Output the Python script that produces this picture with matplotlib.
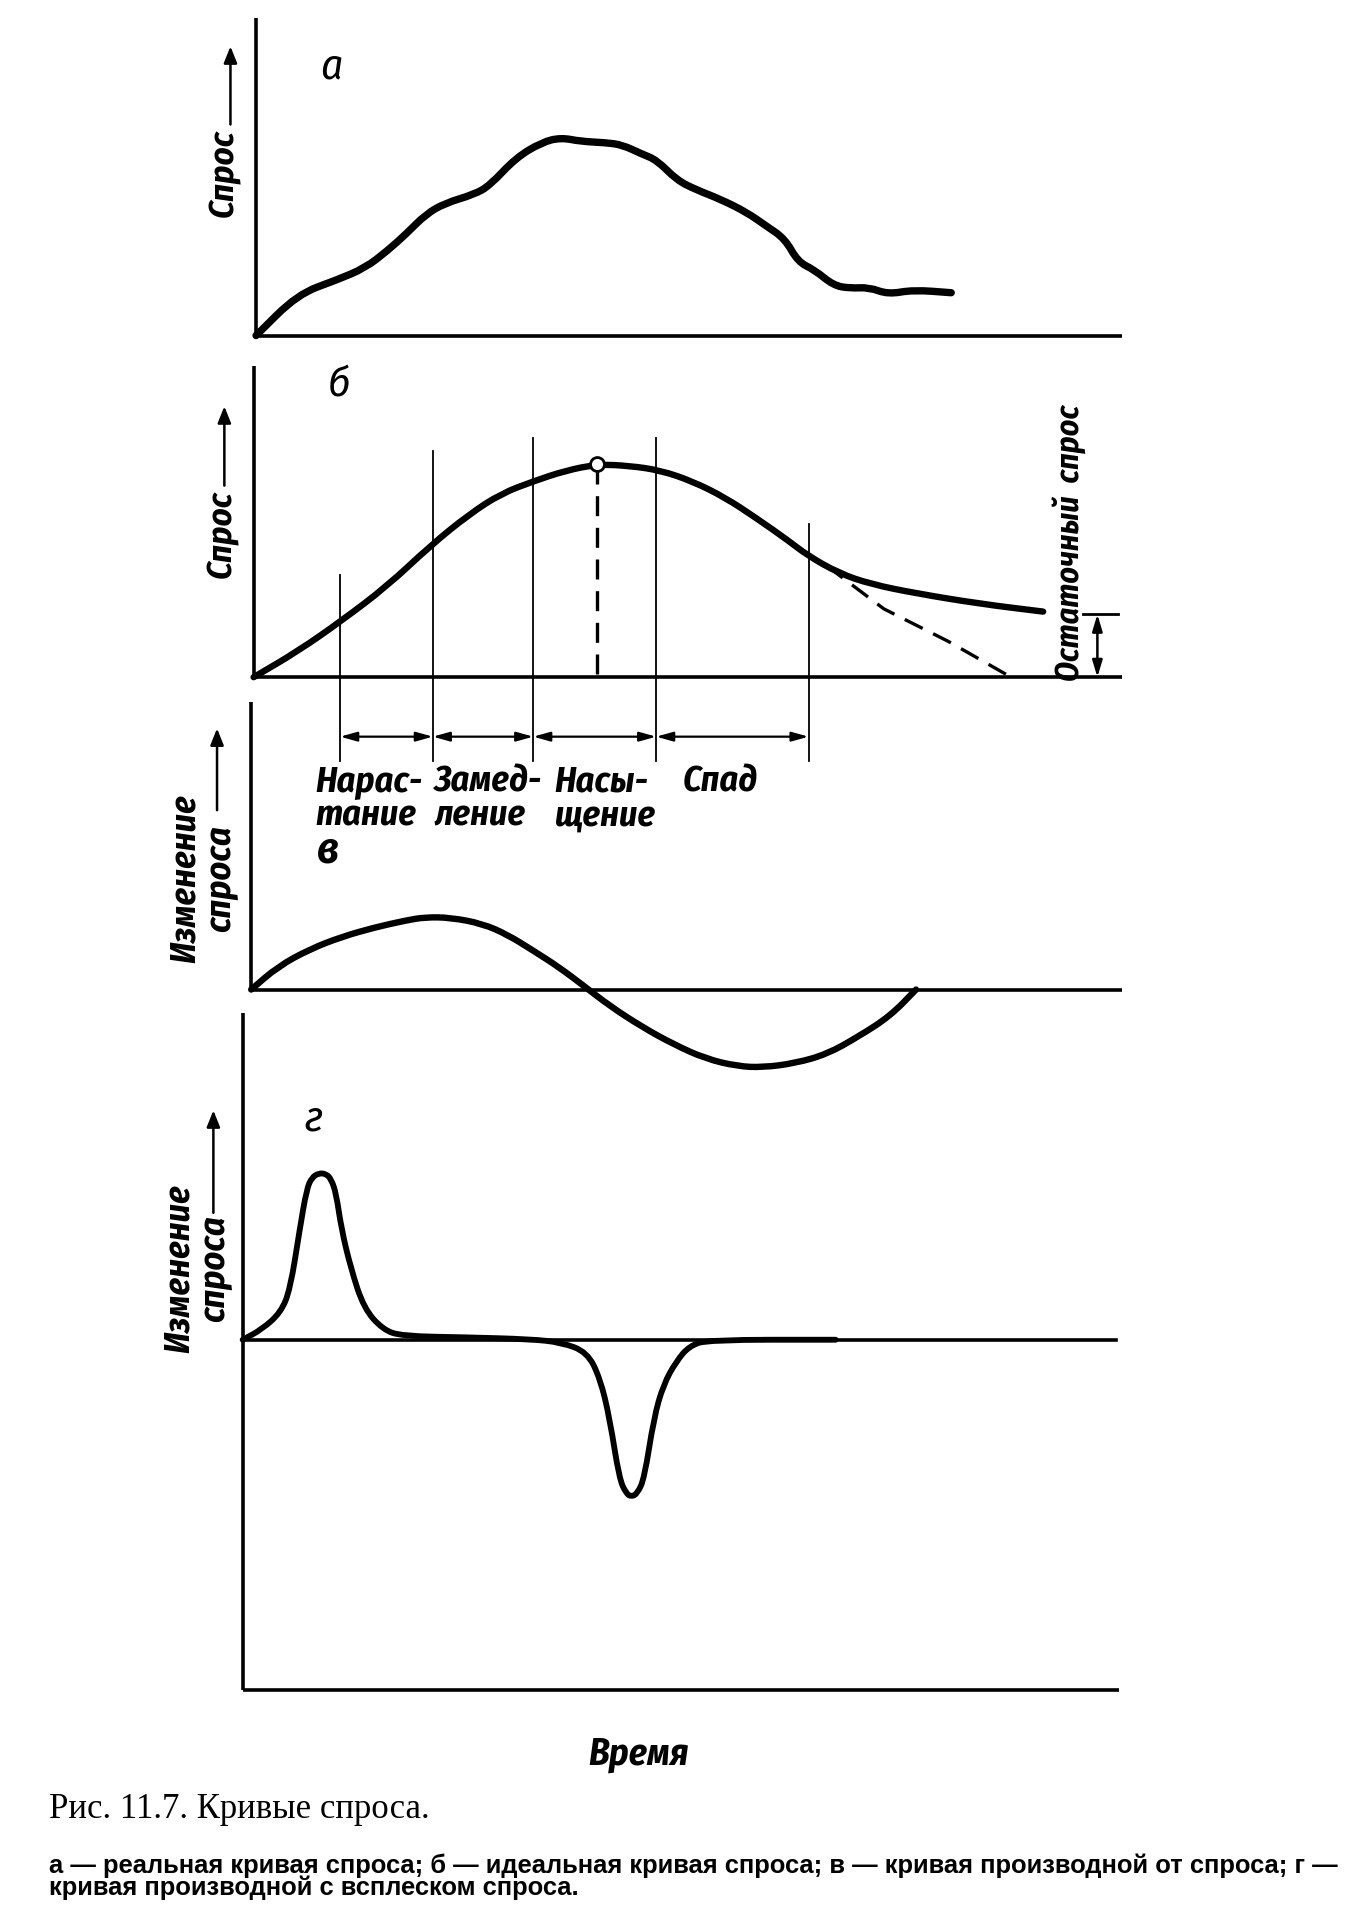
import matplotlib
matplotlib.use('Agg')
import matplotlib.pyplot as plt
from matplotlib.path import Path
from matplotlib.patches import PathPatch, FancyArrowPatch

# layout measured on a 1108 x 1567 grid, figure saved at 1351 x 1912
W, H = 1108.0, 1567.0
PX = 71.0   # px per time unit

# а - real demand curve
t_a = [0, 0.48, 0.93, 1.26, 1.52, 1.74, 1.96, 2.18, 2.52, 2.70, 3.00, 3.30, 3.52, 3.75,
       4.04, 4.23, 4.45, 4.63, 4.86, 5.08, 5.37, 5.67, 5.89, 6.11, 6.26, 6.45, 6.67,
       6.86, 7.08, 7.30, 7.59, 8.03]
d_a = [0, 13.0, 17.5, 21.3, 26.8, 32.2, 38.2, 41.7, 44.5, 47.3, 56.0, 60.9, 62.4, 61.2,
       60.8, 60.1, 57.3, 55.3, 49.0, 46.0, 42.9, 38.8, 34.6, 30.5, 23.2, 20.7, 15.8,
       14.9, 15.2, 13.0, 14.4, 13.5]

# б - ideal curve
t_b = [0, 0.51, 1.02, 1.54, 2.05, 2.49, 2.86, 3.23, 3.60, 3.97, 4.34, 4.70, 5.07, 5.44,
       5.81, 6.18, 6.40, 6.76, 7.13, 7.65, 8.38, 9.12]
d_b = [0, 8.5, 18.6, 29.8, 43.3, 53.4, 60.2, 64.2, 67.7, 69.8, 69.3, 67.8, 64.2, 59.0,
       52.1, 44.7, 39.9, 34.1, 30.5, 27.5, 24.1, 21.5]
peak_t, peak_d = 3.97, 69.8
t_b_dash = [6.62, 7.28, 8.02, 8.75]
d_b_dash = [36.5, 22.4, 11.8, 0.0]
stage_t = [1.0, 2.07, 3.23, 4.65, 6.41]
stage_top = [33.4, 74.0, 78.3, 78.4, 50.2]
stage_names = ['Нарас-\nтание', 'Замед-\nление', 'Насы-\nщение', 'Спад']
residual = 20.6

# в - derivative of demand
t_v = [0, 0.31, 0.68, 1.05, 1.42, 1.79, 2.01, 2.30, 2.67, 2.96, 3.26, 3.55, 3.85, 4.14,
       4.51, 4.88, 5.25, 5.62, 5.91, 6.28, 6.65, 7.01, 7.38, 7.68]
d_v = [0, 1.89, 3.32, 4.33, 5.08, 5.67, 5.93, 5.90, 5.40, 4.50, 3.18, 1.86, 0.26, -1.33,
       -3.04, -4.49, -5.67, -6.29, -6.38, -6.04, -5.30, -3.87, -2.18, 0]

# г - derivative with a demand burst
t_g = [0, 0.22, 0.44, 0.55, 0.66, 0.74, 0.80, 0.88, 0.96, 1.02, 1.08, 1.14, 1.25, 1.40,
       1.62, 1.84, 2.58, 3.32, 3.68, 3.98, 4.13, 4.24, 4.35, 4.43, 4.49, 4.56, 4.64,
       4.75, 4.86, 5.01, 5.16, 5.38, 6.85]
d_g = [0, 0.84, 2.23, 4.15, 9.08, 12.36, 13.3, 13.65, 13.6, 13.2, 12.0, 9.12, 5.85, 2.58,
       0.83, 0.30, 0.2, 0.05, -0.22, -1.01, -3.19, -6.46, -11.37, -12.6, -12.87, -12.6,
       -11.35, -6.42, -3.68, -1.76, -0.51, 0.0, 0.0]

HAND = ['Fira Sans Condensed', 'DejaVu Sans']


def box(left, top, right, bottom):
    return [left / W, 1 - bottom / H, (right - left) / W, (bottom - top) / H]


def fx(px):
    return px / W


def fy(py):
    return 1 - py / H


AX_LW = 2.6

fig = plt.figure(figsize=(13.51, 19.12), dpi=100)
fig.patch.set_facecolor('white')


def setup(ax, xmax, ylo, yhi):
    ax.set_xlim(0, xmax)
    ax.set_ylim(ylo, yhi)
    ax.set_xticks([])
    ax.set_yticks([])
    ax.patch.set_alpha(0)
    for s in ['top', 'right']:
        ax.spines[s].set_visible(False)
    for s in ['left', 'bottom']:
        ax.spines[s].set_linewidth(AX_LW)
        ax.spines[s].set_capstyle('butt')


def smooth(ax, t, d, lw):
    # quadratic bezier through the midpoints, the read points act as control points
    pts = list(zip(t, d))
    verts = [pts[0], ((pts[0][0] + pts[1][0]) / 2, (pts[0][1] + pts[1][1]) / 2)]
    codes = [Path.MOVETO, Path.LINETO]
    for i in range(1, len(pts) - 1):
        m = ((pts[i][0] + pts[i + 1][0]) / 2, (pts[i][1] + pts[i + 1][1]) / 2)
        verts += [pts[i], m]
        codes += [Path.CURVE3, Path.CURVE3]
    verts.append(pts[-1])
    codes.append(Path.LINETO)
    ax.add_patch(PathPatch(Path(verts, codes), fill=False, lw=lw, ec='black',
                           capstyle='round', joinstyle='round', clip_on=False, zorder=3))


def vlabel(text, x, y, ax0, ay0, ay1, size):
    fig.text(fx(x), fy(y), text, rotation=90, ha='center', va='center',
             family=HAND, style='italic', weight='bold', fontsize=size,
             linespacing=1.0, multialignment='center')
    fig.add_artist(FancyArrowPatch(
        (fx(ax0), fy(ay0)), (fx(ax0), fy(ay1)), transform=fig.transFigure,
        arrowstyle='-|>,head_length=10,head_width=4', lw=1.8, color='black',
        shrinkA=0, shrinkB=0))


def letter(text, x, y, weight='normal'):
    fig.text(fx(x), fy(y), text, ha='center', va='center', family=HAND,
             style='italic', weight=weight, fontsize=31)


# --- panel а ---
ax_a = fig.add_axes(box(210, 15, 920, 275))
setup(ax_a, 710 / PX, 0, 100)
smooth(ax_a, t_a, d_a, 5.3)
vlabel('Спрос', 184, 142, 189, 102, 38, 25)
letter('а', 272, 55)

# --- panel б ---
ax_b = fig.add_axes(box(208, 300, 920, 555))
setup(ax_b, 712 / PX, 0, 102)
for st, top in zip(stage_t, stage_top):
    ax_b.plot([st, st], [top, -27.5], color='black', lw=1.3, clip_on=False)
for i in range(len(stage_t) - 1):
    ax_b.annotate('', xy=(stage_t[i + 1], -19.5), xytext=(stage_t[i], -19.5),
                  arrowprops=dict(arrowstyle='<|-|>,head_length=1.0,head_width=0.28',
                                  color='black', lw=1.6, shrinkA=0, shrinkB=0),
                  annotation_clip=False)
ax_b.plot(t_b_dash, d_b_dash, color='black', lw=2.4, dashes=(6, 3.5), clip_on=False)
ax_b.plot([peak_t, peak_t], [peak_d, -2], color='black', lw=2.4, dashes=(6, 3.5),
          clip_on=False)
smooth(ax_b, t_b, d_b, 4.6)
ax_b.plot([peak_t], [peak_d], 'o', ms=10, mfc='white', mec='black', mew=2,
          clip_on=False, zorder=5)
# residual demand marker
res_t = (900 - 208) / PX
ax_b.annotate('', xy=(res_t, residual), xytext=(res_t, 0),
              arrowprops=dict(arrowstyle='<|-|>,head_length=1.0,head_width=0.3',
                              color='black', lw=1.8, shrinkA=0, shrinkB=0),
              annotation_clip=False)
ax_b.plot([(888 - 208) / PX, (917 - 208) / PX], [residual, residual], color='black',
          lw=2.0, clip_on=False)
fig.text(fx(877), fy(445), 'Остаточный  спрос', rotation=90, ha='center', va='center',
         family=HAND, style='italic', weight='bold', fontsize=23)
vlabel('Спрос', 182, 438, 184, 398, 333, 25)
letter('б', 278, 316)
stage_x = [259, 356, 455, 560]
for name, sx in zip(stage_names, stage_x):
    fig.text(fx(sx), fy(626), name, ha='left', va='top', family=HAND,
             style='italic', weight='bold', fontsize=26, linespacing=0.95)

# --- panel в ---
ax_v = fig.add_axes(box(206, 575, 920, 890))
setup(ax_v, 714 / PX, -7.9, 23.6)
ax_v.spines['bottom'].set_visible(False)
ax_v.spines['left'].set_bounds(0, 23.6)
ax_v.axhline(0, color='black', lw=AX_LW)
smooth(ax_v, t_v, d_v, 4.6)
vlabel('Изменение\nспроса', 166, 720, 178, 664, 597, 26)
letter('в', 269, 698, 'bold')

# --- panel г ---
ax_g = fig.add_axes(box(199, 830, 918, 1385))
setup(ax_g, 719 / PX, -28.7, 26.8)
ax_g.axhline(0, xmax=(915 - 199) / 719, color='black', lw=AX_LW)
smooth(ax_g, t_g, d_g, 4.2)
vlabel('Изменение\nспроса', 161, 1040, 175, 994, 910, 26)
letter('г', 257, 917)

fig.text(fx(524), fy(1438), 'Время', ha='center', va='center', family=HAND,
         style='italic', weight='bold', fontsize=27)

# --- caption ---
fig.text(fx(40), fy(1490), 'Рис. 11.7. Кривые спроса.', ha='left', va='baseline',
         family='Liberation Serif', fontsize=25)
fig.text(fx(40), fy(1535),
         'а — реальная кривая спроса; б — идеальная кривая спроса; '
         'в — кривая производной от спроса; г —',
         ha='left', va='baseline', family='Liberation Sans', weight='bold', fontsize=18.4)
fig.text(fx(40), fy(1553), 'кривая производной с всплеском спроса.',
         ha='left', va='baseline', family='Liberation Sans', weight='bold', fontsize=18.4)

fig.savefig('out.png', dpi=100, facecolor='white')
